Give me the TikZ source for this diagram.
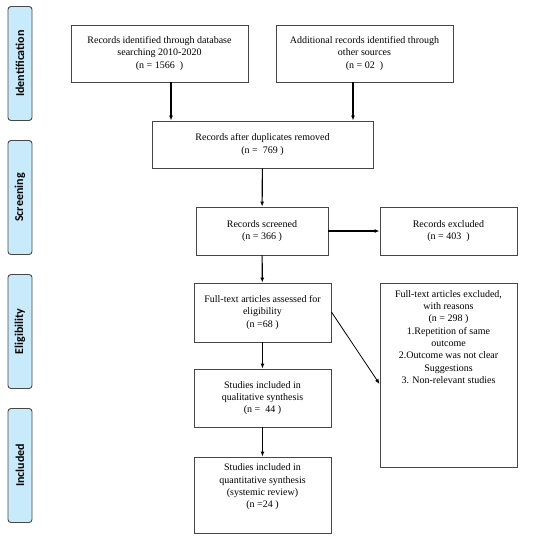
\documentclass[tikz,border=0pt]{standalone}
\usepackage{fontspec}
\setmainfont{Liberation Serif}
\newfontfamily\phasefont{Carlito}
\usetikzlibrary{arrows.meta}

\definecolor{phasefill}{RGB}{200,235,252}
\definecolor{boxline}{RGB}{70,70,70}

\begin{document}
\begin{tikzpicture}[
    x=1pt, y=-1pt,
    font=\rmfamily\fontsize{10}{12.3}\selectfont,
    box/.style={draw=boxline, line width=0.9pt, align=center, inner sep=2pt},
    phase/.style={draw=boxline, fill=phasefill, rounded corners=3pt, line width=0.9pt,
      minimum width=24pt, minimum height=114pt},
    phaselabel/.style={rotate=90, font=\phasefont\bfseries\fontsize{12}{14}\selectfont},
    flow/.style={-{Latex[length=5pt,width=4pt]}, line width=1.1pt},
    ]
    \useasboundingbox (0,0) rectangle (550,539);

    % phases on the left
    \node[phase] (ident) at (20,63.5) {};
    \node[phaselabel] at (ident) {Identification};
    \node[phase] (screen) at (20,197.5) {};
    \node[phaselabel] at (screen) {Screening};
    \node[phase] (elig) at (20,331.5) {};
    \node[phaselabel] at (elig) {Eligibility};
    \node[phase] (incl) at (20,465.5) {};
    \node[phaselabel] at (incl) {Included};

    % boxes
    \node[box, minimum width=177pt, minimum height=57pt] (dbase) at (159.5,53.5)
      {Records identified through database\\searching 2010-2020\\(n = 1566\ \ )};
    \node[box, minimum width=177pt, minimum height=57pt] (other) at (364.5,53.5)
      {Additional records identified through\\other sources\\(n = 02\ \ )};
    \node[box, minimum width=221pt, minimum height=47pt] (dupl) at (262.5,144.5)
      {Records after duplicates removed\\(n =\ \ 769 )};
    \node[box, minimum width=132pt, minimum height=48pt] (screened) at (262,231)
      {Records screened\\(n = 366 )};
    \node[box, minimum width=137pt, minimum height=48pt] (excl) at (448.5,231)
      {Records excluded\\(n = 403\ \ )};
    \node[box, minimum width=137pt, minimum height=59pt] (fulltext) at (262.5,312.5)
      {Full-text articles assessed for\\eligibility\\(n =68 )};
    \node[box, minimum width=137pt, minimum height=184pt, anchor=north] (ftexcl) at (448.5,283)
      {\parbox[t][178pt][t]{130pt}{\centering\vspace{4pt}
       Full-text articles excluded,\\with reasons\\(n = 298 )\\1.Repetition of same\\outcome\\
       2.Outcome was not clear\\Suggestions\\3. Non-relevant studies}};
    \node[box, minimum width=137pt, minimum height=58pt] (quali) at (262.5,398)
      {Studies included in\\qualitative synthesis\\(n =\ \ 44 )};
    \node[box, minimum width=137pt, minimum height=76pt] (quanti) at (262.5,495)
      {Studies included in\\quantitative synthesis\\(systemic review)\\(n =24 )\\[6pt]};

    % arrows
    \draw[flow] (dbase.south -| 171,0) -- (dupl.north -| 171,0);
    \draw[flow] (other.south -| 353,0) -- (dupl.north -| 353,0);
    \draw[flow] (dupl) -- (screened);
    \draw[flow] (screened) -- (excl);
    \draw[flow] (screened) -- (fulltext);
    \draw[-{Latex[length=5pt,width=4pt]}, line width=0.8pt] (fulltext.east |- 0,312) -- (ftexcl.west |- 0,384);
    \draw[flow] (fulltext) -- (quali);
    \draw[flow] (quali) -- (quanti);
\end{tikzpicture}
\end{document}
